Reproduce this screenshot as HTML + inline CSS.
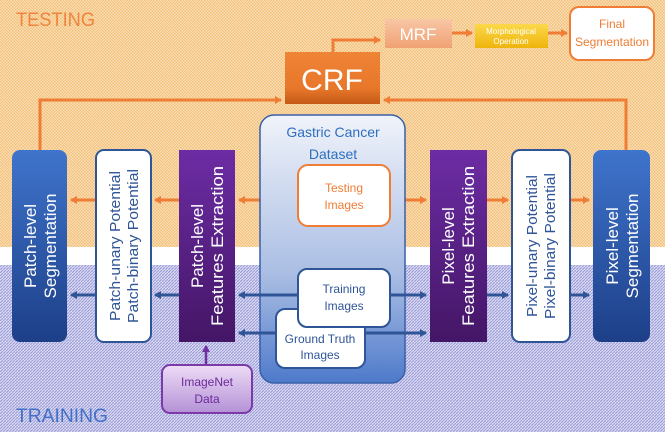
<!DOCTYPE html>
<html><head><meta charset="utf-8"><style>
html,body{margin:0;padding:0;}
svg{display:block;font-family:"Liberation Sans",sans-serif;}
</style></head><body>
<svg width="665" height="432" viewBox="0 0 665 432" xmlns="http://www.w3.org/2000/svg">
<defs>
<pattern id="po" width="3" height="3" patternUnits="userSpaceOnUse"><rect width="3" height="3" fill="#fae0b8"/><rect width="1.5" height="1.5" fill="#f2bf78"/><rect x="1.5" y="1.5" width="1.5" height="1.5" fill="#f2bf78"/></pattern>
<pattern id="pb" width="3" height="3" patternUnits="userSpaceOnUse"><rect width="3" height="3" fill="#dcdcf4"/><path d="M0 3L3 0" stroke="#a0a0da" stroke-width="1.2"/></pattern>
<linearGradient id="gblue" x1="0" y1="0" x2="0" y2="1"><stop offset="0" stop-color="#3f74cc"/><stop offset="1" stop-color="#1d3f88"/></linearGradient>
<linearGradient id="gpur" x1="0" y1="0" x2="0" y2="1"><stop offset="0" stop-color="#6c2ca4"/><stop offset="1" stop-color="#441666"/></linearGradient>
<linearGradient id="gds" x1="0" y1="0" x2="0" y2="1"><stop offset="0" stop-color="#f0f3fa"/><stop offset="0.6" stop-color="#a9bde3"/><stop offset="1" stop-color="#4e7acb"/></linearGradient>
<linearGradient id="gcrf" x1="0" y1="0" x2="0" y2="1"><stop offset="0" stop-color="#ef8436"/><stop offset="0.7" stop-color="#e8772a"/><stop offset="1" stop-color="#c45a16"/></linearGradient>
<linearGradient id="gmrf" x1="0" y1="0" x2="0" y2="1"><stop offset="0" stop-color="#f8c6a6"/><stop offset="1" stop-color="#f0a274"/></linearGradient>
<linearGradient id="gmor" x1="0" y1="0" x2="0" y2="1"><stop offset="0" stop-color="#fbd94a"/><stop offset="1" stop-color="#efb40c"/></linearGradient>
<linearGradient id="gin" x1="0" y1="0" x2="0" y2="1"><stop offset="0" stop-color="#eedcf6"/><stop offset="1" stop-color="#b491d6"/></linearGradient>
<marker id="ao" markerWidth="8" markerHeight="8" refX="6" refY="4" orient="auto" markerUnits="userSpaceOnUse"><path d="M0 0L7 4L0 8z" fill="#ef7d36"/></marker>
<marker id="ab" markerWidth="8" markerHeight="8" refX="6" refY="4" orient="auto" markerUnits="userSpaceOnUse"><path d="M0 0L7 4L0 8z" fill="#2f5597"/></marker>
<marker id="ap" markerWidth="8" markerHeight="8" refX="6" refY="4" orient="auto" markerUnits="userSpaceOnUse"><path d="M0 0L7 4L0 8z" fill="#7030a0"/></marker>
</defs>
<rect x="0" y="0" width="665" height="247" fill="url(#po)"/>
<rect x="0" y="247" width="665" height="18" fill="#fff"/>
<rect x="0" y="265" width="665" height="167" fill="url(#pb)"/>
<text x="16" y="26" font-size="19" fill="#f0843e" textLength="79" lengthAdjust="spacingAndGlyphs">TESTING</text>
<text x="16" y="422" font-size="19" fill="#4270c6" textLength="92" lengthAdjust="spacingAndGlyphs">TRAINING</text>

<g fill="none" stroke="#ef7d36" stroke-width="3">
<path d="M333 52V40H380" marker-end="url(#ao)"/>
<path d="M452 33H472" marker-end="url(#ao)"/>
<path d="M548 33H567" marker-end="url(#ao)"/>
<path d="M40 150V100H281" marker-end="url(#ao)"/>
<path d="M626 150V100H384" marker-end="url(#ao)"/>
<path d="M298 200H239" marker-end="url(#ao)"/>
<path d="M179 200H155" marker-end="url(#ao)"/>
<path d="M96 200H71" marker-end="url(#ao)"/>
<path d="M390 200H426" marker-end="url(#ao)"/>
<path d="M487 200H508" marker-end="url(#ao)"/>
<path d="M570 200H589" marker-end="url(#ao)"/>
</g>

<rect x="385" y="19" width="67" height="29" fill="url(#gmrf)"/>
<text x="418" y="40" font-size="17" fill="#fff" text-anchor="middle">MRF</text>
<rect x="475" y="24" width="73" height="24" fill="url(#gmor)"/>
<text x="511" y="34" font-size="8" fill="#fff" text-anchor="middle">Morphological</text>
<text x="511" y="44" font-size="8" fill="#fff" text-anchor="middle">Operation</text>
<rect x="570" y="7" width="84" height="53" rx="9" fill="#fff" stroke="#ef7d36" stroke-width="2"/>
<text x="612" y="28" font-size="12" fill="#ef7d36" text-anchor="middle">Final</text>
<text x="612" y="46" font-size="12" fill="#ef7d36" text-anchor="middle">Segmentation</text>
<rect x="285" y="52" width="95" height="52" fill="url(#gcrf)"/>
<text x="332" y="90" font-size="30" fill="#fff" text-anchor="middle">CRF</text>

<rect x="260" y="115" width="145" height="268" rx="14" fill="url(#gds)" stroke="#3a5fa8" stroke-width="1.5"/>
<text x="333" y="137" font-size="14" fill="#2e6fbf" text-anchor="middle">Gastric Cancer</text>
<text x="333" y="159" font-size="14" fill="#2e6fbf" text-anchor="middle">Dataset</text>
<rect x="298" y="165" width="92" height="61" rx="10" fill="#fff" stroke="#ef7d36" stroke-width="2"/>
<text x="344" y="192" font-size="12" fill="#ef7d36" text-anchor="middle">Testing</text>
<text x="344" y="209" font-size="12" fill="#ef7d36" text-anchor="middle">Images</text>

<g fill="none" stroke="#2f5597" stroke-width="3">
<path d="M298 295H239" marker-end="url(#ab)"/>
<path d="M179 295H155" marker-end="url(#ab)"/>
<path d="M96 295H71" marker-end="url(#ab)"/>
<path d="M390 295H426" marker-end="url(#ab)"/>
<path d="M487 295H508" marker-end="url(#ab)"/>
<path d="M570 295H589" marker-end="url(#ab)"/>
<path d="M276 333H239" marker-end="url(#ab)"/>
<path d="M365 333H426" marker-end="url(#ab)"/>
</g>
<rect x="276" y="309" width="89" height="59" rx="9" fill="#fff" stroke="#2f5597" stroke-width="2"/>
<text x="320" y="343" font-size="12" fill="#2f5597" text-anchor="middle">Ground Truth</text>
<text x="320" y="359" font-size="12" fill="#2f5597" text-anchor="middle">Images</text>
<rect x="298" y="269" width="92" height="58" rx="9" fill="#fff" stroke="#2f5597" stroke-width="2"/>
<text x="344" y="293" font-size="12" fill="#2f5597" text-anchor="middle">Training</text>
<text x="344" y="310" font-size="12" fill="#2f5597" text-anchor="middle">Images</text>

<rect x="12" y="150" width="55" height="192" rx="8" fill="url(#gblue)"/>
<rect x="96" y="150" width="55" height="192" rx="8" fill="#fff" stroke="#2f5597" stroke-width="2"/>
<rect x="179" y="150" width="56" height="192" fill="url(#gpur)"/>
<rect x="430" y="150" width="57" height="192" fill="url(#gpur)"/>
<rect x="512" y="150" width="58" height="192" rx="8" fill="#fff" stroke="#2f5597" stroke-width="2"/>
<rect x="593" y="150" width="57" height="192" rx="8" fill="url(#gblue)"/>

<g font-size="17" fill="#fff" text-anchor="middle">
<text transform="translate(40 246) rotate(-90)"><tspan x="0" y="-4">Patch-level</tspan><tspan x="0" y="16">Segmentation</tspan></text>
<text transform="translate(207 246) rotate(-90)"><tspan x="0" y="-4">Patch-level</tspan><tspan x="0" y="16" textLength="160" lengthAdjust="spacingAndGlyphs">Features Extraction</tspan></text>
<text transform="translate(458 246) rotate(-90)"><tspan x="0" y="-4">Pixel-level</tspan><tspan x="0" y="16" textLength="160" lengthAdjust="spacingAndGlyphs">Features Extraction</tspan></text>
<text transform="translate(622 246) rotate(-90)"><tspan x="0" y="-4">Pixel-level</tspan><tspan x="0" y="16">Segmentation</tspan></text>
</g>
<g font-size="15" fill="#2f5597" text-anchor="middle">
<text transform="translate(124 246) rotate(-90)"><tspan x="0" y="-4" textLength="150" lengthAdjust="spacingAndGlyphs">Patch-unary Potential</tspan><tspan x="0" y="14" textLength="154" lengthAdjust="spacingAndGlyphs">Patch-binary Potential</tspan></text>
<text transform="translate(541 246) rotate(-90)"><tspan x="0" y="-4" textLength="142" lengthAdjust="spacingAndGlyphs">Pixel-unary Potential</tspan><tspan x="0" y="14" textLength="146" lengthAdjust="spacingAndGlyphs">Pixel-binary Potential</tspan></text>
</g>

<path d="M206 365V346" stroke="#7030a0" stroke-width="2.5" fill="none" marker-end="url(#ap)"/>
<rect x="162" y="365" width="90" height="48" rx="8" fill="url(#gin)" stroke="#7a3aa8" stroke-width="2"/>
<text x="207" y="386" font-size="12" fill="#6a2a9a" text-anchor="middle">ImageNet</text>
<text x="207" y="403" font-size="12" fill="#6a2a9a" text-anchor="middle">Data</text>
</svg>
</body></html>
